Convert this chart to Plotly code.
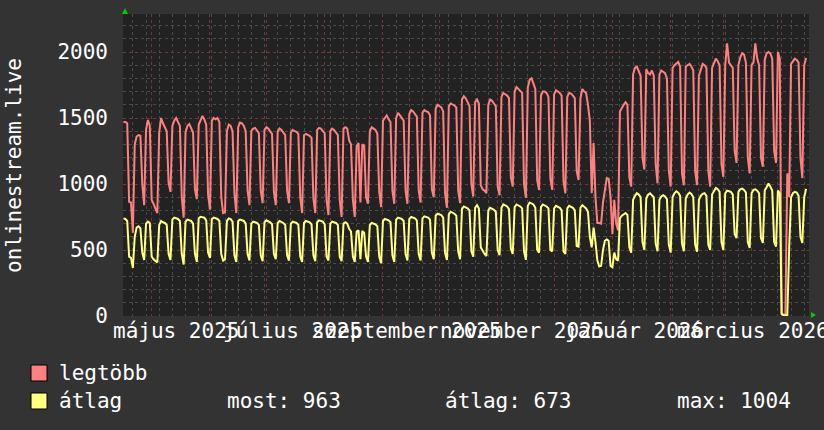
import pandas as pd
import plotly.graph_objects as go

# daily values, Wed 16 Apr 2025 .. Tue 14 Apr 2026 (rows are Mon..Sun weeks)
START = "2025-04-16"

legtobb = [
    1470, 1470, 1460, 865, 860,
    630, 1300, 1360, 1370, 1365, 1000, 840,
    1410, 1485, 1440, 880, 850, 820, 780,
    1390, 1500, 1460, 1430, 1400, 1010, 940,
    1440, 1480, 1500, 1470, 1440, 900, 745,
    1390, 1440, 1455, 1420, 1390, 960, 885,
    1450, 1480, 1515, 1490, 1450, 920, 805,
    1480, 1500, 1490, 1500, 1470, 900, 780,
    785, 1400, 1450, 1440, 1400, 930, 780,
    1430, 1465, 1460, 1440, 1400, 950, 840,
    1400, 1420, 1425, 1405, 1385, 950, 855,
    1410, 1430, 1420, 1400, 1380, 940, 840,
    1395, 1420, 1410, 1390, 1370, 950, 855,
    1390, 1410, 1400, 1395, 1380, 900, 780,
    1370, 1380, 1375, 1365, 1350, 890, 780,
    1410, 1425, 1420, 1400, 1385, 880, 765,
    1400, 1420, 1410, 1390, 1370, 880, 750,
    1420, 1430, 1420, 1330, 1300, 880, 750,
    1290, 1310, 860, 1300, 1290, 900, 850,
    1400, 1430, 1420, 1410, 1380, 940, 825,
    1480, 1500, 1520, 1490, 1470, 950, 850,
    1500, 1540, 1520, 1500, 1480, 950, 850,
    1530, 1560, 1550, 1530, 1510, 950, 860,
    1540, 1560, 1550, 1545, 1520, 960, 900,
    1570, 1600, 1590, 1580, 1550, 930, 820,
    1590, 1610, 1605, 1595, 1580, 950, 855,
    1640, 1665, 1650, 1620, 1590, 1000, 905,
    1620, 1640, 1610, 990, 960, 950, 930,
    1600, 1640, 1630, 1610, 1590, 980, 915,
    1660, 1690, 1680, 1670, 1650, 1050, 980,
    1700, 1735, 1720, 1710, 1690, 1000, 895,
    1730, 1790, 1800, 1760, 1720, 1030, 955,
    1670, 1700, 1700, 1690, 1660, 1040, 955,
    1680, 1710, 1700, 1690, 1670, 1020, 930,
    1660, 1690, 1685, 1670, 1650, 1100, 1030,
    1650, 1720, 1700, 1690, 1600, 1480, 930,
    1310, 900, 705, 705, 700, 860, 950,
    1045, 1040, 900, 620, 880, 700, 650,
    1550, 1580, 1600, 1620, 1600, 1050, 980,
    1830, 1880, 1890, 1860, 1820, 1200, 1110,
    1870, 1840, 1830, 1860, 1820, 1150, 1005,
    1830, 1860, 1850, 1840, 1800, 1100, 980,
    1880, 1900, 1910, 1925, 1890, 1080, 990,
    1890, 1900, 1910, 1890, 1860, 1100, 992,
    1820, 1870, 1910, 1900, 1880, 1100, 980,
    1880, 1920, 1950, 1930, 1900, 1150, 1055,
    1900, 2066, 1920, 1900, 1880, 1250, 1160,
    1900, 1960, 1990, 1980, 1920, 1200, 1080,
    1900, 1920, 2066, 1950, 1900, 1200, 1130,
    1940, 1990, 2000, 1990, 1950, 1250, 1160,
    2000, 1950, 20, 10, 10, 1080, 900,
    1910, 1930, 1950, 1940, 1920, 1200, 1045,
    1900, 1955,
]

atlag = [
    740, 735, 720, 450, 440,
    365, 600, 670, 680, 665, 480, 425,
    700, 715, 705, 450, 430, 420, 405,
    690, 720, 710, 705, 690, 470, 425,
    730, 745, 740, 735, 720, 470, 390,
    715, 730, 725, 720, 700, 470, 410,
    740, 752, 748, 745, 725, 480, 440,
    735, 745, 740, 735, 720, 470, 420,
    430, 720, 740, 735, 715, 460, 410,
    720, 730, 725, 720, 700, 470, 420,
    700, 715, 710, 705, 690, 460, 415,
    710, 725, 720, 710, 695, 470, 430,
    705, 720, 715, 705, 690, 460, 420,
    700, 715, 710, 705, 690, 450, 410,
    705, 720, 715, 710, 695, 460, 415,
    710, 725, 720, 715, 695, 450, 420,
    700, 715, 710, 705, 690, 450, 415,
    700, 710, 700, 660, 640, 450, 410,
    640, 650, 430, 645, 630, 450, 410,
    690, 705, 700, 695, 680, 450, 400,
    720, 735, 730, 725, 710, 460, 410,
    730, 745, 740, 735, 720, 470, 420,
    735, 750, 745, 740, 725, 470, 420,
    740, 755, 750, 745, 730, 480, 430,
    760, 775, 770, 765, 745, 480, 425,
    770, 790, 785, 775, 760, 490, 430,
    810, 830, 825, 815, 800, 490, 450,
    820, 840, 815, 520, 490, 470, 455,
    800, 820, 815, 805, 790, 500, 460,
    820, 845, 840, 830, 810, 510, 470,
    825, 845, 840, 830, 815, 490, 425,
    835, 860, 855, 845, 820, 500, 480,
    825, 845, 840, 830, 815, 500, 490,
    815, 835, 830, 820, 800, 490, 470,
    815, 835, 830, 820, 800, 530, 525,
    820, 840, 830, 815, 790, 600, 520,
    670, 560, 420, 375, 380, 500, 570,
    580, 570, 380, 370, 480, 430, 420,
    740, 760, 770, 780, 765, 520, 480,
    880, 910, 930, 920, 900, 560, 500,
    890, 920, 930, 915, 900, 550, 490,
    880, 905, 915, 905, 885, 540, 480,
    900, 930, 945, 935, 910, 550, 490,
    890, 920, 935, 925, 900, 540, 487,
    880, 910, 925, 930, 910, 540, 500,
    920, 950, 970, 960, 940, 560, 500,
    930, 950, 945, 940, 920, 620, 590,
    940, 960, 965, 955, 935, 560, 515,
    930, 955, 960, 950, 930, 590, 553,
    950, 975, 1004, 980, 950, 560, 525,
    950, 930, 15, 5, 5, 5, 515,
    900, 930, 940, 935, 910, 600, 553,
    900, 963,
]

month_starts = ["2025-05-01", "2025-06-01", "2025-07-01", "2025-08-01",
                "2025-09-01", "2025-10-01", "2025-11-01", "2025-12-01",
                "2026-01-01", "2026-02-01", "2026-03-01", "2026-04-01"]
label_dates = ["2025-05-13 18:00", "2025-07-14 18:00", "2025-09-13 15:00",
               "2025-11-13 18:00", "2026-01-12 15:00", "2026-03-16 13:00"]
label_texts = ["május 2025", "július 2025", "szeptember 2025",
               "november 2025", "január 2026", "március 2026"]
y_ticks = [0, 500, 1000, 1500, 2000]

stats = ["most: 963", "átlag: 673", "max: 1004"]

dates = pd.date_range(START, periods=len(legtobb), freq="D")

# -----------------------------
# pixel helpers (layout only)
# -----------------------------
W, H = 824, 430
L, R, T, B = 123, 15, 14, 114
PW, PH = W - L - R, H - T - B


def px(x):
    return (x - L) / PW


def py(y):
    return (H - B - y) / PH


FONT = "DejaVu Sans Mono"
TXT = "#ffffff"
RED = "#ff8080"
YEL = "#ffff80"

fig = go.Figure()

fig.add_trace(go.Scatter(x=dates, y=legtobb, mode="lines", name="legtöbb",
                         line=dict(color=RED, width=2)))
fig.add_trace(go.Scatter(x=dates, y=atlag, mode="lines", name="átlag",
                         line=dict(color=YEL, width=2)))

fig.update_layout(
    width=W, height=H, autosize=False,
    margin=dict(l=L, r=R, t=T, b=B),
    paper_bgcolor="#333333",
    plot_bgcolor="#222222",
    showlegend=False,
    font=dict(family=FONT, size=21, color=TXT),
)

fig.update_xaxes(
    type="date",
    range=["2025-04-15 18:00", "2026-04-15 13:00"],
    tickmode="array", tickvals=month_starts, showticklabels=False,
    showgrid=True, gridcolor="#6e3838", griddash="dot", gridwidth=1,
    minor=dict(tickmode="linear", dtick=7 * 86400000, tick0="2025-04-21",
               showgrid=True, gridcolor="#4a4a4a", griddash="dot", gridwidth=1),
    zeroline=False, showline=False, ticks="",
)

fig.update_yaxes(
    range=[0, PH / 0.132],
    tickmode="array", tickvals=y_ticks,
    showgrid=True, gridcolor="#6e3838", griddash="dot", gridwidth=1,
    minor=dict(tickmode="linear", dtick=100, tick0=0, showgrid=True,
               gridcolor="#4a4a4a", griddash="dot", gridwidth=1),
    zeroline=False, showline=False, ticks="",
    ticklabelstandoff=14,
    tickfont=dict(family=FONT, size=21, color=TXT),
)

# month labels under the plot
for d, t in zip(label_dates, label_texts):
    fig.add_annotation(x=d, xref="x", y=py(331), yref="paper",
                       text=t, showarrow=False, xanchor="center",
                       yanchor="middle", font=dict(family=FONT, size=21, color=TXT))

# vertical axis title
fig.add_annotation(x=px(14), y=py(166), xref="paper", yref="paper",
                   text="onlinestream.live", textangle=-90, showarrow=False,
                   xanchor="center", yanchor="middle",
                   font=dict(family=FONT, size=21, color=TXT))

# legend boxes and texts
for y0, col in [(365, RED), (393, YEL)]:
    fig.add_shape(type="rect", xref="paper", yref="paper",
                  x0=px(31), x1=px(47), y0=py(y0 + 16), y1=py(y0),
                  fillcolor=col, line=dict(color="#000000", width=1))

fig.add_annotation(x=px(57), y=py(373), xref="paper", yref="paper",
                   text="legtöbb", showarrow=False, xanchor="left", yanchor="middle")
fig.add_annotation(x=px(57), y=py(401), xref="paper", yref="paper",
                   text="átlag", showarrow=False, xanchor="left", yanchor="middle")
for xpos, t in zip([225, 443, 675], stats):
    fig.add_annotation(x=px(xpos), y=py(401), xref="paper", yref="paper",
                       text=t, showarrow=False, xanchor="left", yanchor="middle")

# green axis arrows
fig.add_shape(type="path", xref="paper", yref="paper",
              path=f"M {px(122)},{py(14)} L {px(128)},{py(14)} L {px(125)},{py(8)} Z",
              fillcolor="#00cc00", line=dict(width=0))
fig.add_shape(type="path", xref="paper", yref="paper",
              path=f"M {px(811)},{py(312)} L {px(811)},{py(318)} L {px(816)},{py(315)} Z",
              fillcolor="#00cc00", line=dict(width=0))

# page has a default 8px body margin; drop it so the figure fills the window
fig.write_html("out.html", config={"displayModeBar": False},
               post_script="document.body.style.margin='0';")
